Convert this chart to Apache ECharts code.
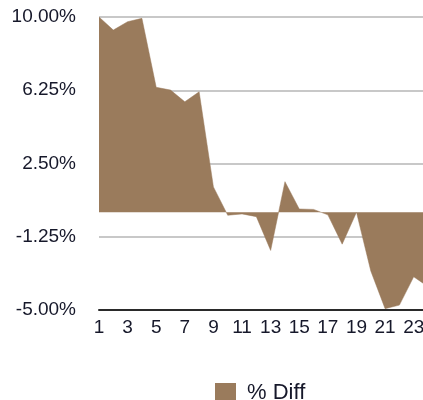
<!DOCTYPE html>
<html>
<head>
<meta charset="utf-8">
<style>
  html, body { margin: 0; padding: 0; background: #ffffff; }
  #chart { width: 423px; height: 400px; }
</style>
<script src="https://cdn.jsdelivr.net/npm/echarts@6/dist/echarts.min.js"></script>
</head>
<body>
<div id="chart"></div>
<script>
// Day index along the x axis
const categories = ['1','2','3','4','5','6','7','8','9','10','11','12',
                    '13','14','15','16','17','18','19','20','21','22','23','24'];
// Percentage difference per day
const pctDiff = [10.0, 9.33, 9.76, 9.93, 6.4, 6.26, 5.66, 6.17, 1.3, -0.15, -0.08, -0.22,
                 -1.95, 1.57, 0.17, 0.15, -0.13, -1.63, 0.0, -3.0, -4.93, -4.75, -3.3, -3.8];
const seriesName = '% Diff';
const yMin = -5, yMax = 10, yStep = 3.75;

const chart = echarts.init(document.getElementById('chart'), null, { renderer: 'canvas' });
const font = 'Liberation Sans, Arial, Helvetica, sans-serif';
const textColor = '#16182a';
const fillColor = '#9a7b5c';

chart.setOption({
  animation: false,
  backgroundColor: '#ffffff',
  grid: { left: 99, top: 17, bottom: 90, right: -5, containLabel: false, outerBoundsMode: 'none' },
  xAxis: {
    type: 'category',
    data: categories,
    boundaryGap: false,
    axisLine: { show: true, onZero: false, lineStyle: { color: '#2a2a2a', width: 2 } },
    axisTick: { show: false },
    axisLabel: { interval: 1, margin: 8, color: textColor, fontFamily: font, fontSize: 19 },
    splitLine: { show: false }
  },
  yAxis: {
    type: 'value',
    min: yMin,
    max: yMax,
    interval: yStep,
    axisLine: { show: false },
    axisTick: { show: false },
    axisLabel: {
      margin: 23, color: textColor, fontFamily: font, fontSize: 19,
      formatter: v => v.toFixed(2) + '%'
    },
    splitLine: { show: true, lineStyle: { color: '#c8c8c8', width: 2 } }
  },
  legend: {
    data: [seriesName],
    left: 210,
    top: 377,
    icon: 'rect',
    itemWidth: 21,
    itemHeight: 20,
    textStyle: { fontFamily: font, fontSize: 22, color: textColor, padding: [0, 0, 0, 6] }
  },
  series: [{
    name: seriesName,
    type: 'line',
    data: pctDiff,
    showSymbol: false,
    symbol: 'none',
    color: fillColor,
    lineStyle: { width: 0.5, color: fillColor },
    areaStyle: { color: fillColor, opacity: 1 }
  }]
});
</script>
</body>
</html>
